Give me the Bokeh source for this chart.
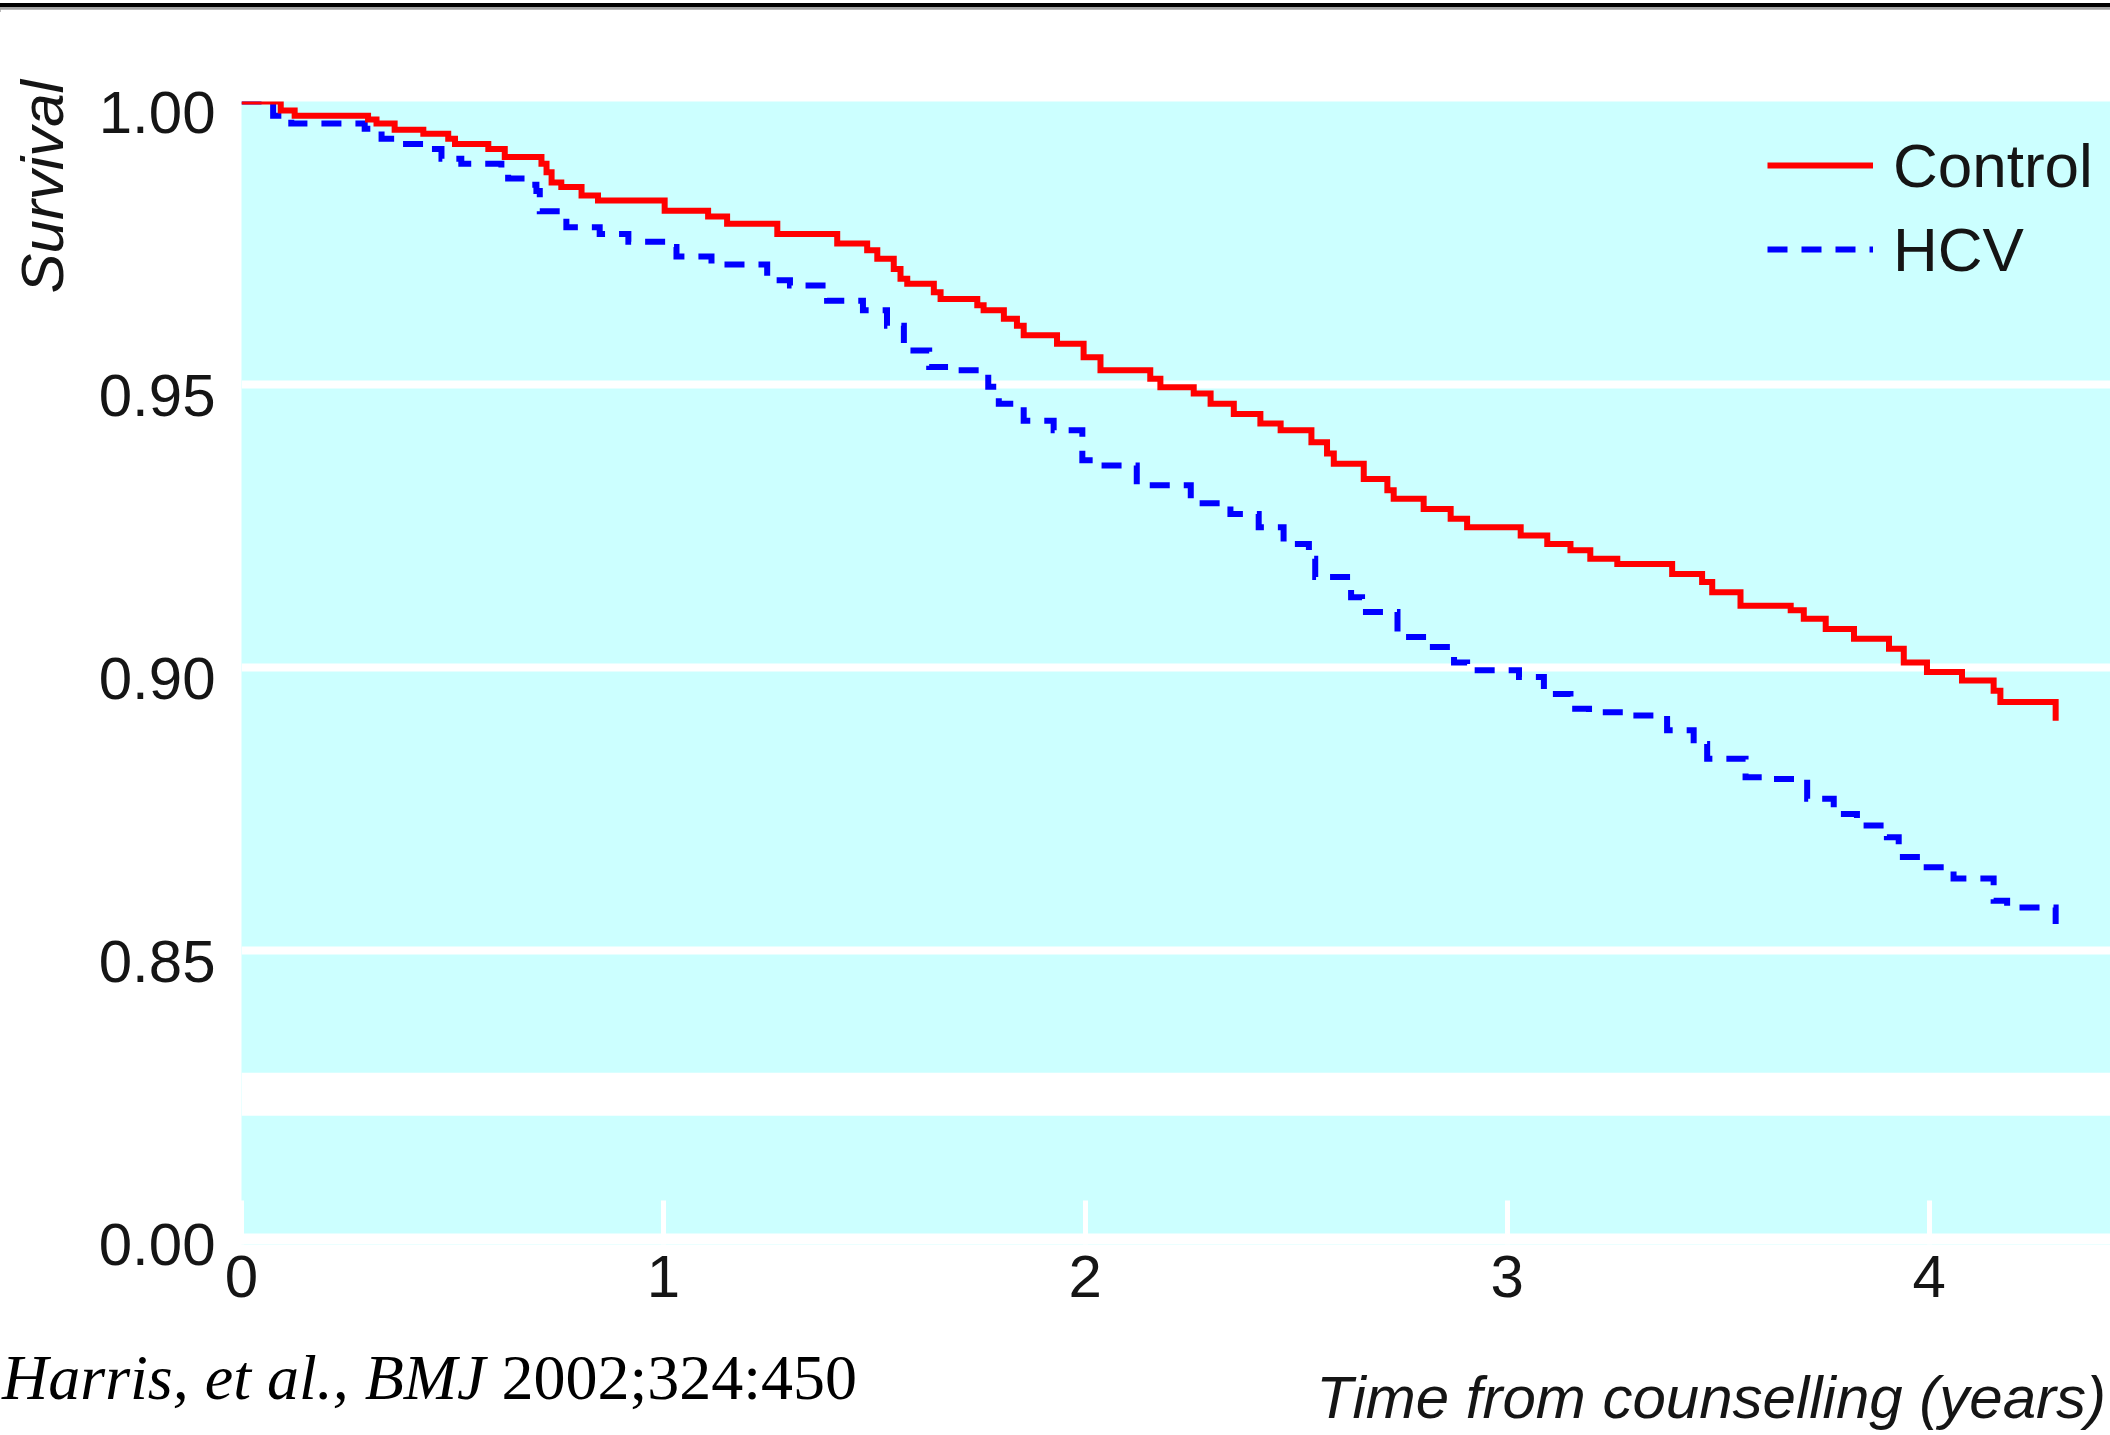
from bokeh.plotting import figure
from bokeh.models import (Range1d, FixedTicker, Label, Legend, LegendItem,
                          BoxAnnotation, Div)
from bokeh.layouts import column
from bokeh.embed import file_html
from bokeh.resources import INLINE

# ---------------- data (Kaplan-Meier style step curves) ----------------
control_t = [0.000, 0.093, 0.126, 0.300, 0.320, 0.363, 0.431, 0.490, 0.506, 0.585,
             0.624, 0.711, 0.723, 0.735, 0.758, 0.806, 0.845, 1.003, 1.106, 1.151,
             1.270, 1.412, 1.483, 1.507, 1.546, 1.562, 1.578, 1.641, 1.657, 1.744,
             1.759, 1.807, 1.838, 1.854, 1.933, 1.996, 2.036, 2.154, 2.178, 2.257,
             2.297, 2.352, 2.415, 2.463, 2.536, 2.573, 2.589, 2.660, 2.716, 2.731,
             2.802, 2.866, 2.905, 3.032, 3.095, 3.150, 3.197, 3.261, 3.391, 3.462,
             3.486, 3.553, 3.672, 3.703, 3.755, 3.822, 3.905, 3.940, 3.995, 4.078,
             4.153, 4.169, 4.300]
control_s = [1.0000, 0.9984, 0.9975, 0.9968, 0.9961, 0.9950, 0.9943, 0.9934, 0.9925, 0.9916,
             0.9902, 0.9890, 0.9875, 0.9857, 0.9849, 0.9834, 0.9825, 0.9807, 0.9797, 0.9784,
             0.9766, 0.9749, 0.9737, 0.9722, 0.9704, 0.9687, 0.9678, 0.9663, 0.9651, 0.9640,
             0.9631, 0.9616, 0.9604, 0.9587, 0.9572, 0.9548, 0.9525, 0.9510, 0.9495, 0.9484,
             0.9466, 0.9448, 0.9431, 0.9419, 0.9398, 0.9378, 0.9360, 0.9333, 0.9313, 0.9298,
             0.9280, 0.9263, 0.9248, 0.9233, 0.9218, 0.9207, 0.9192, 0.9183, 0.9165, 0.9151,
             0.9133, 0.9109, 0.9101, 0.9086, 0.9068, 0.9051, 0.9033, 0.9009, 0.8992, 0.8977,
             0.8959, 0.8939, 0.8906]

hcv_t = [0.000, 0.075, 0.118, 0.292, 0.332, 0.379, 0.442, 0.474, 0.521, 0.616,
         0.632, 0.672, 0.699, 0.707, 0.770, 0.849, 0.917, 1.019, 1.031, 1.114,
         1.246, 1.300, 1.388, 1.473, 1.530, 1.570, 1.630, 1.692, 1.770, 1.795,
         1.854, 1.925, 1.993, 2.036, 2.122, 2.250, 2.344, 2.411, 2.470, 2.530,
         2.545, 2.630, 2.656, 2.740, 2.814, 2.874, 2.905, 3.028, 3.087, 3.150,
         3.194, 3.288, 3.379, 3.442, 3.474, 3.565, 3.628, 3.711, 3.774, 3.829,
         3.900, 3.928, 3.987, 4.058, 4.153, 4.185, 4.300]
hcv_s = [1.0000, 0.9975, 0.9961, 0.9952, 0.9934, 0.9925, 0.9916, 0.9899, 0.9890, 0.9875,
         0.9864, 0.9853, 0.9842, 0.9806, 0.9778, 0.9766, 0.9752, 0.9743, 0.9726, 0.9712,
         0.9684, 0.9675, 0.9648, 0.9631, 0.9604, 0.9560, 0.9531, 0.9525, 0.9496, 0.9466,
         0.9436, 0.9419, 0.9366, 0.9357, 0.9322, 0.9290, 0.9271, 0.9248, 0.9218, 0.9192,
         0.9160, 0.9124, 0.9098, 0.9054, 0.9036, 0.9009, 0.8995, 0.8983, 0.8953, 0.8927,
         0.8921, 0.8915, 0.8889, 0.8865, 0.8839, 0.8806, 0.8803, 0.8768, 0.8741, 0.8721,
         0.8700, 0.8665, 0.8647, 0.8627, 0.8588, 0.8576, 0.8547]

series_names = ["Control", "HCV"]
x_ticks = [0, 1, 2, 3, 4]
y_ticks = [0.80, 0.85, 0.90, 0.95, 1.00]
y_tick_labels = ["0.00", "0.85", "0.90", "0.95", "1.00"]
grid_values = [0.85, 0.90, 0.95]
break_band = (0.8208, 0.8284)   # broken-axis gap (the bottom value reads 0.00)

x_title = "Time from counselling (years)"
y_title = "Survival"
caption_italic = "Harris, et al., BMJ"
caption_roman = "2002;324:450"

# ---------------- styling ----------------
SANS = "Liberation Sans"
SERIF = "Liberation Serif"
CYAN = "#ccffff"
TXT = "#151515"
FS = "60px"

W = 2110
RULE_H = 9
MAIN_H = 1326
FOOT_H = 1435 - RULE_H - MAIN_H
Y0, Y1 = 0.80, 1.00
FRAME_TOP, ZERO_PX = 92, 1224          # pixel rows of 1.00 and of the bottom (0.00)
PX = (Y1 - Y0) / (ZERO_PX - FRAME_TOP)  # data units per pixel
LABEL_DROP = 11                         # labels sit ~11px below their value
Y_START = Y0 - LABEL_DROP * PX
FRAME_BOTTOM = ZERO_PX + LABEL_DROP

p = figure(width=W, height=MAIN_H, output_backend="svg", toolbar_location=None,
           x_range=Range1d(0, 4.430), y_range=Range1d(Y_START, Y1),
           min_border_left=241, min_border_top=FRAME_TOP,
           min_border_bottom=MAIN_H - FRAME_BOTTOM, min_border_right=0)
p.background_fill_color = CYAN
p.border_fill_color = "white"
p.outline_line_color = None

# white strip under the 0.00 baseline (room for the shifted bottom label)
p.add_layout(BoxAnnotation(bottom=Y_START, top=Y0, fill_color="white",
                           fill_alpha=1.0, line_color=None, level="underlay"))

# x axis: white inward ticks, labels below
p.xaxis.ticker = FixedTicker(ticks=x_ticks)
p.xaxis.axis_line_color = None
p.xaxis.major_tick_in = 33 + LABEL_DROP
p.xaxis.major_tick_out = 0
p.xaxis.major_tick_line_color = "white"
p.xaxis.major_tick_line_width = 5
p.xaxis.minor_tick_line_color = None
p.xaxis.major_label_standoff = 22 - LABEL_DROP
p.xaxis.major_label_text_font = SANS
p.xaxis.major_label_text_font_size = FS
p.xaxis.major_label_text_color = TXT

# y axis: no line / tick marks; each label sits slightly below its value
label_pos = [round(v - LABEL_DROP * PX, 6) for v in y_ticks]
p.yaxis.ticker = FixedTicker(ticks=label_pos)
p.yaxis.major_label_overrides = {v: s for v, s in zip(label_pos, y_tick_labels)}
p.yaxis.axis_line_color = None
p.yaxis.major_tick_line_color = None
p.yaxis.major_tick_in = 0
p.yaxis.major_tick_out = 0
p.yaxis.minor_tick_line_color = None
p.yaxis.major_label_standoff = 26
p.yaxis.major_label_text_font = SANS
p.yaxis.major_label_text_font_size = FS
p.yaxis.major_label_text_color = TXT

p.xgrid.visible = False
p.ygrid.ticker = FixedTicker(ticks=grid_values)
p.ygrid.grid_line_color = "white"
p.ygrid.grid_line_width = 8

# broken axis gap
p.add_layout(BoxAnnotation(bottom=break_band[0], top=break_band[1],
                           fill_color="white", fill_alpha=1.0,
                           line_color=None, level="underlay"))

# curves
r_hcv = p.step(hcv_t, hcv_s, mode="after", line_color="#0000ff", line_width=6,
               line_dash="20 14", line_join="miter")
r_ctrl = p.step(control_t, control_s, mode="after", line_color="#ff0000",
                line_width=6, line_join="miter")

legend = Legend(items=[LegendItem(label=series_names[0], renderers=[r_ctrl]),
                       LegendItem(label=series_names[1], renderers=[r_hcv])],
                location=(1526, 945 + LABEL_DROP), orientation="vertical",
                glyph_width=106, glyph_height=78, label_height=78,
                spacing=6, label_standoff=20, padding=0, margin=0,
                border_line_color=None, background_fill_alpha=0,
                label_text_font=SANS, label_text_font_size="62px",
                label_text_color=TXT)
p.add_layout(legend)

# vertical y title, top-left (side panel, so it is not clipped by the frame)
p.add_layout(Label(x=0, y=Y1, x_offset=-199, y_offset=-192, text=y_title,
                   angle=1.5707963, text_align="left", text_baseline="alphabetic",
                   text_font=SANS, text_font_style="italic",
                   text_font_size=FS, text_color=TXT), "left")

# footer: source line (left) and x-axis title (right)
cap_top = 65 - 54     # baseline ~65px below the footer top
ttl_top = 84 - 51
foot_html = (
    f'<div style="position:relative;width:{W}px;height:{FOOT_H}px;overflow:hidden;'
    f'background:white">'
    f'<span style="position:absolute;left:2px;top:{cap_top}px;'
    f"font-family:'{SERIF}';font-size:64px;line-height:1;white-space:nowrap;"
    f'color:#000"><i>{caption_italic}</i> {caption_roman}</span>'
    f'<span style="position:absolute;right:4px;top:{ttl_top}px;'
    f"font-family:'{SANS}';font-style:italic;font-size:60px;line-height:1;"
    f'white-space:nowrap;color:{TXT}">{x_title}</span>'
    f'</div>'
)
foot = Div(text=foot_html, width=W, height=FOOT_H, margin=(0, 0, 0, 0))

rule = Div(text=f"<div style='width:{W}px;height:4px;background:#000'></div>"
                f"<div style='width:{W}px;height:5px;background:#a3a3a3'></div>",
           width=W, height=RULE_H, margin=(0, 0, 0, 0))

layout = column(rule, p, foot, spacing=0)
open("out.html", "w").write(file_html(layout, INLINE))
